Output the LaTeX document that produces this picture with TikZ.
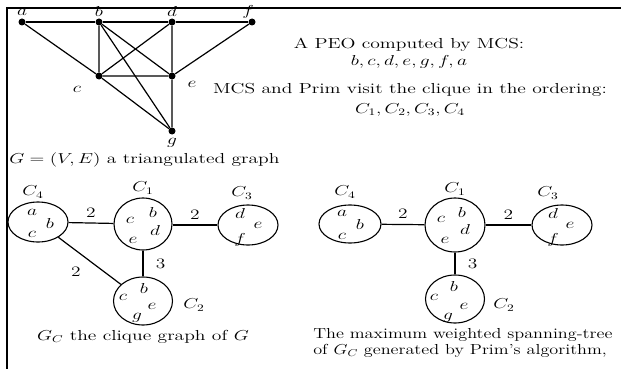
\documentclass[tikz,border=0pt]{standalone}
\usetikzlibrary{shapes.geometric}
\tikzset{
  txt/.style={inner sep=0pt, font=\fontsize{14.5}{16}\selectfont, xscale=1.35},
  dot/.style={circle, fill, inner sep=0pt, minimum size=7pt},
  clq/.style={draw, ellipse, line width=1.1pt, inner sep=0pt},
  edge/.style={line width=1.2pt}
}
\begin{document}
\begin{tikzpicture}[x=1pt, y=-1pt]
	\useasboundingbox (0,0) rectangle (621,369);
	% frame of the scan
	\draw[line width=1.5pt] (6,8) -- (621,8);
	\draw[line width=1.5pt] (7,8) -- (7,369);
	% the triangulated graph G
	\node[dot] (a) at (22,22) {};
	\node[dot] (b) at (99,22) {};
	\node[dot] (d) at (172,22) {};
	\node[dot] (f) at (252,22) {};
	\node[dot] (c) at (99,76) {};
	\node[dot] (e) at (172,76) {};
	\node[dot] (g) at (172,131) {};
	\node[txt] (la) at (22,12) {$a$};
	\node[txt] (lb) at (99,12) {$b$};
	\node[txt] (ld) at (172,12) {$d$};
	\node[txt] (lf) at (248,12) {$f$};
	\node[txt] (lc) at (77,89) {$c$};
	\node[txt] (le) at (192,84) {$e$};
	\node[txt] (lg) at (172,143) {$g$};
	\draw[edge] (a) -- (b) -- (d) -- (f);
	\draw[edge] (a) -- (c) -- (e) -- (f);
	\draw[edge] (b) -- (c) -- (d) -- (e) -- (g) -- (c);
	\draw[edge] (b) -- (e);
	\draw[edge] (b) -- (g);
	% texts
	\node[txt] (peo) at (409,45) {A PEO computed by MCS:};
	\node[txt] (peolist) at (409,62) {$b, c, d, e, g, f, a$};
	\node[txt] (visit) at (410,90) {MCS and Prim visit the clique in the ordering:};
	\node[txt] (order) at (410,110) {$C_1, C_2, C_3, C_4$};
	\node[txt, anchor=west] (capG) at (9,160) {$G=(V,E)$ a triangulated graph};
	% the clique graph G_C
	\node[clq, minimum width=60pt, minimum height=40pt] (C4) at (38,222) {};
	\node[clq, minimum width=58pt, minimum height=52pt] (C1) at (143,224) {};
	\node[clq, minimum width=60pt, minimum height=40pt] (C3) at (248,225) {};
	\node[clq, minimum width=59pt, minimum height=48pt] (C2) at (143,301) {};
	\node[txt] at (33,192) {$C_4$};
	\node[txt] at (143,188) {$C_1$};
	\node[txt] at (242,193) {$C_3$};
	\node[txt] at (194,305) {$C_2$};
	\node[txt] at (32,212) {$a$};
	\node[txt] at (50,223) {$b$};
	\node[txt] at (32,234) {$c$};
	\node[txt] at (130,220) {$c$};
	\node[txt] at (153,212) {$b$};
	\node[txt] at (155,230) {$d$};
	\node[txt] at (133,240) {$e$};
	\node[txt] at (240,213) {$d$};
	\node[txt] at (258,225) {$e$};
	\node[txt] at (240,240) {$f$};
	\node[txt] at (144,288) {$b$};
	\node[txt] at (123,297) {$c$};
	\node[txt] at (152,306) {$e$};
	\node[txt] at (137,318) {$g$};
	\draw[edge] (C4) -- node[txt, above=5pt] {$2$} (C1);
	\draw[edge] (C1.east |- C3) -- node[txt, above=5pt] {$2$} (C3);
	\draw[edge] (C1) -- node[txt, right=9pt] {$3$} (C2);
	\draw[edge] (C4) -- node[txt, below left=6pt] {$2$} (C2);
	\node[txt] (capGC) at (143,337) {$G_C$ the clique graph of $G$};
	% the maximum weighted spanning tree
	\node[clq, minimum width=62pt, minimum height=38pt] (T4) at (350,224) {};
	\node[clq, minimum width=60pt, minimum height=54pt] (T1) at (455,225) {};
	\node[clq, minimum width=60pt, minimum height=40pt] (T3) at (562,225) {};
	\node[clq, minimum width=59pt, minimum height=48pt] (T2) at (455,299) {};
	\node[txt] at (345,192) {$C_4$};
	\node[txt] at (455,189) {$C_1$};
	\node[txt] at (548,193) {$C_3$};
	\node[txt] at (504,305) {$C_2$};
	\node[txt] at (342,213) {$a$};
	\node[txt] at (360,224) {$b$};
	\node[txt] at (342,236) {$c$};
	\node[txt] at (441,219) {$c$};
	\node[txt] at (462,212) {$b$};
	\node[txt] at (465,229) {$d$};
	\node[txt] at (445,240) {$e$};
	\node[txt] at (553,213) {$d$};
	\node[txt] at (570,225) {$e$};
	\node[txt] at (553,240) {$f$};
	\node[txt] at (454,286) {$b$};
	\node[txt] at (434,297) {$c$};
	\node[txt] at (464,306) {$e$};
	\node[txt] at (448,318) {$g$};
	\draw[edge] (T4) -- node[txt, above=5pt] {$2$} (T1);
	\draw[edge] (T1) -- node[txt, above=5pt] {$2$} (T3);
	\draw[edge] (T1) -- node[txt, right=9pt] {$3$} (T2);
	\node[txt, xscale=0.93, anchor=west] (capT1) at (313,335) {The maximum weighted spanning-tree};
	\node[txt, xscale=0.93, anchor=west] (capT2) at (313,351) {of $G_C$ generated by Prim's algorithm,};
\end{tikzpicture}
\end{document}
